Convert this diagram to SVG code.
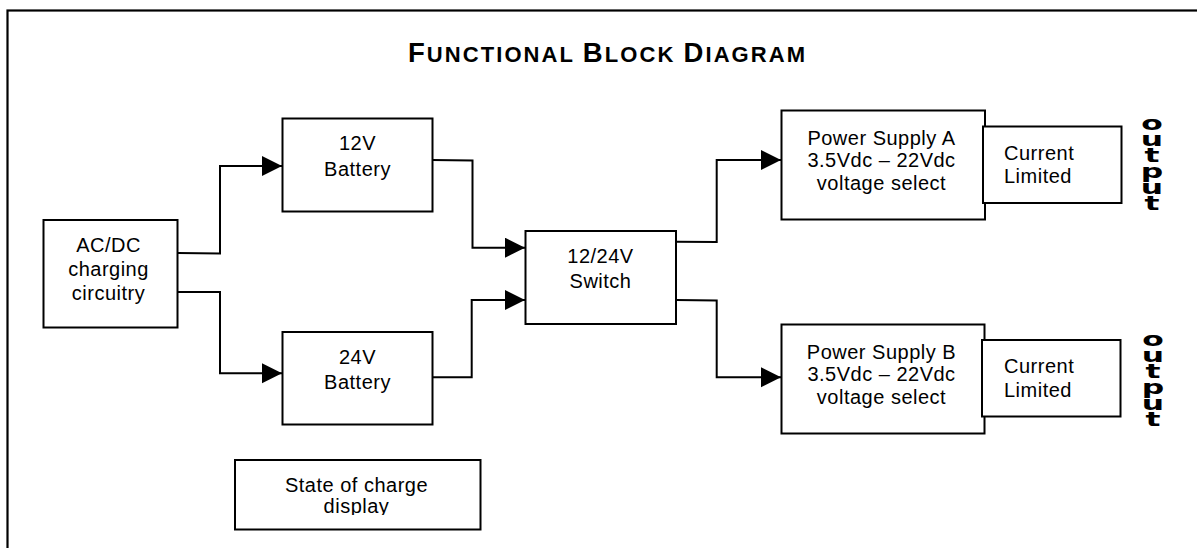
<svg xmlns="http://www.w3.org/2000/svg" width="1197" height="548" viewBox="0 0 1197 548">
<style>
.box{fill:#fff;stroke:#000;stroke-width:2}
.lbl{font-family:"Liberation Sans",Arial,sans-serif;font-size:20px;letter-spacing:0.5px;fill:#000}
.c{text-anchor:middle}
.wire{fill:none;stroke:#000;stroke-width:2;marker-end:url(#arr)}
.out{font-family:"DejaVu Sans",sans-serif;font-weight:bold;font-size:19px;fill:#000;writing-mode:vertical-rl;text-orientation:upright;letter-spacing:-6px}
</style>
<defs>
<marker id="arr" markerUnits="userSpaceOnUse" markerWidth="21" markerHeight="21" refX="20" refY="10" orient="auto">
<path d="M0,0 L20,10 L0,20 Z" fill="#000"/>
</marker>
<clipPath id="clipState"><rect x="235" y="460" width="246" height="55"/></clipPath>
</defs>
<rect x="0" y="0" width="1197" height="548" fill="#fff"/>
<rect x="7.5" y="10.5" width="1300" height="700" fill="none" stroke="#000" stroke-width="2.2"/>
<text x="408" y="62" textLength="397" lengthAdjust="spacing" font-family="'Liberation Sans',Arial,sans-serif" font-weight="bold" fill="#000"><tspan font-size="27.5">F</tspan><tspan font-size="22">UNCTIONAL </tspan><tspan font-size="27.5">B</tspan><tspan font-size="22">LOCK </tspan><tspan font-size="27.5">D</tspan><tspan font-size="22">IAGRAM</tspan></text>
<g id="connectors">
<path class="wire" d="M177.7,253 L220,253.5 L220,166 L282,166"/>
<path class="wire" d="M177.7,292 L220,292 L220,373.3 L282,373.3"/>
<path class="wire" d="M432,160 L472.5,160.5 L472.5,247.7 L525,247.7"/>
<path class="wire" d="M432,377.3 L471.7,377.3 L471.7,300 L525,300"/>
<path class="wire" d="M676,241.7 L716.7,242 L716.7,160 L781,160"/>
<path class="wire" d="M676,300 L716.7,300.5 L716.7,377.3 L781,377.3"/>
</g>
<g id="acdc">
<rect class="box" x="43.5" y="220" width="134" height="107.5"/>
<text class="lbl c" x="108.5"><tspan x="108.5" y="251.7">AC/DC</tspan><tspan x="108.5" y="275.5">charging</tspan><tspan x="108.5" y="299.5">circuitry</tspan></text>
</g>
<g id="bat12">
<rect class="box" x="282.5" y="118.5" width="150" height="93"/>
<text class="lbl c"><tspan x="357.5" y="150">12V</tspan><tspan x="357.5" y="176">Battery</tspan></text>
</g>
<g id="bat24">
<rect class="box" x="282.5" y="332" width="150" height="92.5"/>
<text class="lbl c"><tspan x="357.5" y="364.3">24V</tspan><tspan x="357.5" y="388.5">Battery</tspan></text>
</g>
<g id="switch">
<rect class="box" x="525.5" y="231" width="150.5" height="93"/>
<text class="lbl c"><tspan x="600.5" y="263.3">12/24V</tspan><tspan x="600.5" y="287.7">Switch</tspan></text>
</g>
<g id="psa">
<rect class="box" x="781.5" y="110.5" width="203.5" height="109"/>
<text class="lbl c"><tspan x="881.5" y="145">Power Supply A</tspan><tspan x="881.5" y="166.5">3.5Vdc – 22Vdc</tspan><tspan x="881.5" y="190">voltage select</tspan></text>
</g>
<g id="cla">
<rect class="box" x="983" y="126.5" width="138.5" height="76.5"/>
<text class="lbl"><tspan x="1004" y="160">Current</tspan><tspan x="1004" y="183.3">Limited</tspan></text>
</g>
<g id="psb">
<rect class="box" x="781.5" y="324.5" width="203" height="109"/>
<text class="lbl c"><tspan x="881.5" y="359.3">Power Supply B</tspan><tspan x="881.5" y="380.8">3.5Vdc – 22Vdc</tspan><tspan x="881.5" y="404.3">voltage select</tspan></text>
</g>
<g id="clb">
<rect class="box" x="982" y="340" width="138.5" height="76.5"/>
<text class="lbl"><tspan x="1004" y="373.3">Current</tspan><tspan x="1004" y="396.7">Limited</tspan></text>
</g>
<g id="state">
<rect class="box" x="235" y="460" width="245.5" height="69.5"/>
<text class="lbl c" clip-path="url(#clipState)"><tspan x="356.5" y="491.7">State of charge</tspan><tspan x="356.5" y="513.3">display</tspan></text>
</g>
<g id="outputA">
<text class="out" transform="translate(1152,112) scale(1.65,1)" x="0" y="0">output</text>
</g>
<g id="outputB">
<text class="out" transform="translate(1153,328) scale(1.65,1)" x="0" y="0">output</text>
</g>
</svg>
